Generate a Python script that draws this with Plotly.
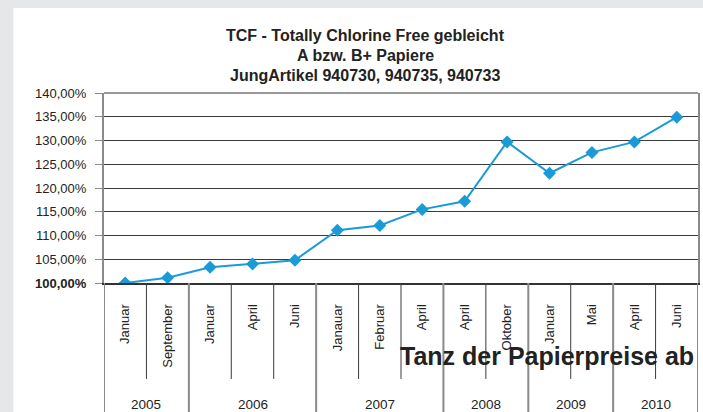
import plotly.graph_objects as go

# Daten
years = ["2005", "2005", "2006", "2006", "2006", "2007", "2007", "2007",
         "2008", "2008", "2009", "2009", "2010", "2010"]
months = ["Januar", "September", "Januar", "April", "Juni", "Janauar", "Februar", "April",
          "April", "Oktober", "Januar", "Mai", "April", "Juni"]
index_pct = [100.0, 101.1, 103.3, 104.0, 104.8, 111.1, 112.1, 115.5,
             117.2, 129.7, 123.1, 127.5, 129.7, 134.9]
ytick_vals = [100, 105, 110, 115, 120, 125, 130, 135, 140]
ytick_text = ["<b>100,00%</b>", "105,00%", "110,00%", "115,00%", "120,00%",
              "125,00%", "130,00%", "135,00%", "140,00%"]
title_lines = ["TCF - Totally Chlorine Free gebleicht", "A bzw. B+ Papiere",
               "JungArtikel 940730, 940735, 940733"]
overlay_text = "Tanz der Papierpreise ab"

pos = list(range(len(months)))
font = "Liberation Sans, Arial, sans-serif"
grey_bg = "#e6e7e9"

fig = go.Figure()
fig.add_trace(go.Scatter(
    x=pos, y=index_pct, mode="lines+markers",
    line=dict(color="#1a9bd7", width=2),
    marker=dict(symbol="diamond", size=10, color="#1a9bd7"),
    showlegend=False, hoverinfo="skip"))

shapes = []
# grauer Rand links und oben
shapes.append(dict(type="rect", xref="paper", yref="paper", x0=-0.2, x1=-0.1527,
                   y0=-0.8, y1=1.6, fillcolor=grey_bg, line_width=0, layer="below"))
shapes.append(dict(type="rect", xref="paper", yref="paper", x0=-0.2, x1=1.1,
                   y0=1.447, y1=1.6, fillcolor=grey_bg, line_width=0, layer="below"))
# obere Rahmenlinie
shapes.append(dict(type="line", xref="paper", yref="paper", x0=0, x1=1, y0=1, y1=1,
                   line=dict(color="#999999", width=2)))

# Trennlinien unter der Achse
for i in range(len(months) + 1):
    xb = i - 0.5
    if i == 0 or i == len(months) or years[i] != years[i - 1]:
        shapes.append(dict(type="line", xref="x", yref="paper", x0=xb, x1=xb,
                           y0=0, y1=-0.72, line=dict(color="#8a8a8a", width=2)))
    else:
        shapes.append(dict(type="line", xref="x", yref="paper", x0=xb, x1=xb,
                           y0=0, y1=-0.505, line=dict(color="#3a3a3a", width=1)))

annotations = []
for k, line in enumerate(title_lines):
    annotations.append(dict(text="<b>%s</b>" % line, xref="paper", yref="paper",
                            x=0.4396, y=1.305 - k * 0.1053, xanchor="center", yanchor="middle",
                            showarrow=False, font=dict(family=font, size=16, color="#222222")))

# Jahresbeschriftung
year_groups = []
for i, yv in enumerate(years):
    if not year_groups or year_groups[-1][0] != yv:
        year_groups.append([yv, i, i])
    else:
        year_groups[-1][2] = i
for yv, a, b in year_groups:
    annotations.append(dict(text=yv, xref="x", yref="paper", x=(a + b) / 2, y=-0.637,
                            xanchor="center", yanchor="middle", showarrow=False,
                            font=dict(family=font, size=13.5, color="#222222")))

annotations.append(dict(text="<b>%s</b>" % overlay_text, xref="paper", yref="paper",
                        x=(548 - 104) / 596, y=(283 - 356) / 190, xanchor="center",
                        yanchor="middle", showarrow=False,
                        font=dict(family=font, size=25, color="#222222")))

fig.update_layout(
    width=703, height=412,
    margin=dict(l=104, r=3, t=93, b=129),
    paper_bgcolor="white", plot_bgcolor="white",
    shapes=shapes, annotations=annotations,
    xaxis=dict(range=[-0.5, len(months) - 0.5], tickvals=pos, ticktext=months,
               tickangle=-90, ticks="", showgrid=False, zeroline=False,
               showline=True, linecolor="#333333", linewidth=2,
               ticklabelstandoff=14,
               tickfont=dict(family=font, size=13, color="#222222")),
    yaxis=dict(range=[100, 140], tickvals=ytick_vals, ticktext=ytick_text,
               ticks="outside", ticklen=7, tickcolor="#8a8a8a",
               showgrid=True, gridcolor="#3a3a3a", gridwidth=1, zeroline=False,
               showline=True, linecolor="#8a8a8a", linewidth=2, mirror=True,
               ticklabelstandoff=6,
               tickfont=dict(family=font, size=13, color="#222222")),
)

# Seitenrand entfernen, damit die Grafik genau ins Fenster passt
fig.write_html("out.html", config={"displayModeBar": False},
               post_script="document.body.style.margin='0';document.body.style.overflow='hidden';")
